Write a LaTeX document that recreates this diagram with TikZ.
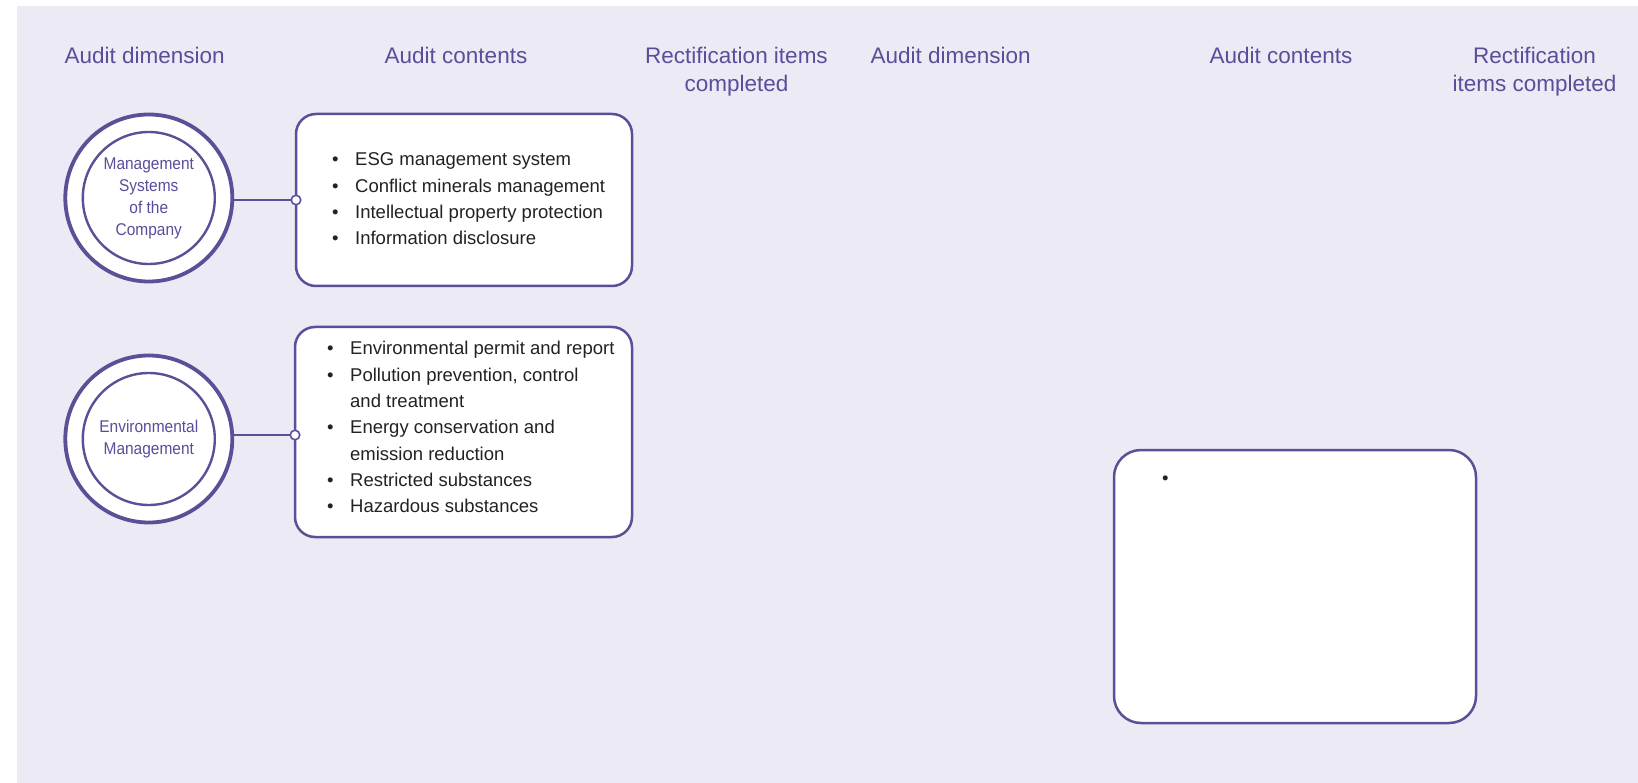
\documentclass[tikz,border=0pt]{standalone}
\usepackage{graphicx}
\usepackage{fontspec}
\setmainfont{Liberation Sans}
\definecolor{bgl}{HTML}{ECEAF4}
\definecolor{pur}{HTML}{5C4F97}
\definecolor{ptxt}{HTML}{5A4E9B}
\definecolor{dtxt}{HTML}{222222}
\newcommand{\narrowtxt}[1]{\scalebox{0.91}[1]{\begin{tabular}{@{}c@{}}#1\end{tabular}}}
\begin{document}
\begin{tikzpicture}[x=1pt,y=-1pt,
  hdr/.style={font=\fontsize{22.5}{28}\selectfont, text=ptxt, align=center, anchor=north, inner sep=0pt},
  outc/.style={circle, draw=pur, fill=white, line width=3.8pt, minimum size=167pt, inner sep=0pt, outer sep=0pt},
  inc/.style={circle, draw=pur, fill=white, line width=2.4pt, minimum size=132pt, inner sep=0pt, outer sep=0pt},
  ctext/.style={font=\fontsize{17}{22}\selectfont, text=ptxt, inner sep=0pt},
  box/.style={draw=pur, fill=white, line width=2.5pt, rounded corners=20pt, inner sep=0pt, outer sep=0pt},
  conn/.style={draw=pur, line width=2.2pt},
  opendot/.style={circle, draw=pur, fill=white, line width=1.6pt, minimum size=9.5pt, inner sep=0pt, outer sep=0pt},
  lst/.style={font=\fontsize{18.5}{26.3}\selectfont, text=dtxt, anchor=base west, inner sep=0pt}
]
\useasboundingbox (0,0) rectangle (1638,783);
\fill[white] (0,0) rectangle (1638,783);
\fill[bgl] (17,6) rectangle (1638,783);

% headers
\node[hdr] (h1) at (144.7,47) {Audit dimension};
\node[hdr] (h2) at (456,47) {Audit contents};
\node[hdr] (h3) at (736.5,47) {Rectification items\\completed};
\node[hdr] (h4) at (950.6,47) {Audit dimension};
\node[hdr] (h5) at (1281,47) {Audit contents};
\node[hdr] (h6) at (1534.5,47) {Rectification\\items completed};

% boxes
\node[box, minimum width=336pt, minimum height=172pt] (b1) at (464,200) {};
\node[box, minimum width=337pt, minimum height=210pt] (b2) at (463.5,432) {};
\node[box, rounded corners=27pt, minimum width=362pt, minimum height=273pt] (b3) at (1295,586.5) {};

% circles
\node[outc] (c1o) at (148.8,198) {};
\node[inc] (c1i) at (148.8,198) {};
\node[ctext] (c1t) at (148.8,198) {\narrowtxt{Management\\Systems\\of the\\Company}};

\node[outc] (c2o) at (148.8,439) {};
\node[inc] (c2i) at (148.8,439) {};
\node[ctext] (c2t) at (148.8,439) {\narrowtxt{Environmental\\Management}};

% connectors
\coordinate (j1) at (b1.west);
\coordinate (j2) at ([yshift=-3pt]b2.west);
\draw[conn] (j1) -- (j1 -| c1o.east);
\node[opendot] (d1) at (j1) {};
\draw[conn] (j2) -- (j2 -| c2o.east);
\node[opendot] (d2) at (j2) {};

% lists
\node[lst] (t1) at (332,166) {\begin{tabular}[t]{@{}l@{\hspace{16.5pt}}l@{}}
\textbullet & ESG management system\\
\textbullet & Conflict minerals management\\
\textbullet & Intellectual property protection\\
\textbullet & Information disclosure
\end{tabular}};
\node[lst] (t2) at (327,355) {\begin{tabular}[t]{@{}l@{\hspace{16.5pt}}l@{}}
\textbullet & Environmental permit and report\\
\textbullet & Pollution prevention, control\\
 & and treatment\\
\textbullet & Energy conservation and\\
 & emission reduction\\
\textbullet & Restricted substances\\
\textbullet & Hazardous substances
\end{tabular}};
\node[lst] (t3) at (1162,484) {\textbullet};
\end{tikzpicture}
\end{document}
